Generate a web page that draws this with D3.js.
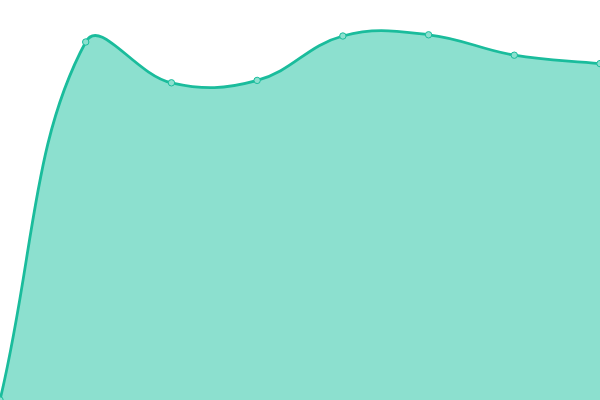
<!DOCTYPE html>
<html>
<head>
<meta charset="utf-8">
<script src="https://cdn.jsdelivr.net/npm/d3@7"></script>
<style>
html,body{margin:0;padding:0;background:#fff;overflow:hidden;}
svg{display:block;}
</style>
</head>
<body>
<svg id="chart" width="600" height="400"></svg>
<script>
const categories = ["January","February","March","April","May","June","July","August"];
const values = [0, 89.5, 79.3, 79.9, 91.0, 91.3, 86.2, 84.1];
const yDomain = [0, 100];

const W = 600, H = 400;
const svg = d3.select("#chart");

const x = d3.scalePoint().domain(categories).range([0, W]);
const y = d3.scaleLinear().domain(yDomain).range([H, 0]);

// Chart.js-style spline (distance-weighted tangents, tension 0.4)
function SplineCurve(context, tension){ this._context = context; this._t = tension; }
SplineCurve.prototype = {
  areaStart(){ this._line = 0; },
  areaEnd(){ this._line = NaN; },
  lineStart(){ this._pts = []; },
  point(px, py){ this._pts.push([+px, +py]); },
  lineEnd(){
    const p = this._pts, n = p.length, ctx = this._context, t = this._t;
    if (n) {
      if (this._line) ctx.lineTo(p[0][0], p[0][1]); else ctx.moveTo(p[0][0], p[0][1]);
      const cps = p.map((cur, i) => {
        const prev = p[i-1] || cur, next = p[i+1] || cur;
        const d01 = Math.hypot(cur[0]-prev[0], cur[1]-prev[1]);
        const d12 = Math.hypot(next[0]-cur[0], next[1]-cur[1]);
        let s01 = d01/(d01+d12), s12 = d12/(d01+d12);
        if (!isFinite(s01)) s01 = 0;
        if (!isFinite(s12)) s12 = 0;
        const fa = t*s01, fb = t*s12;
        return {
          prev: [cur[0] - fa*(next[0]-prev[0]), Math.max(0, Math.min(H, cur[1] - fa*(next[1]-prev[1])))],
          next: [cur[0] + fb*(next[0]-prev[0]), Math.max(0, Math.min(H, cur[1] + fb*(next[1]-prev[1])))]
        };
      });
      for (let i = 1; i < n; i++) {
        ctx.bezierCurveTo(cps[i-1].next[0], cps[i-1].next[1], cps[i].prev[0], cps[i].prev[1], p[i][0], p[i][1]);
      }
    }
    if (this._line || (this._line !== 0 && n === 1)) ctx.closePath();
    this._line = 1 - this._line;
  }
};
const curve = ctx => new SplineCurve(ctx, 0.4);

const data = categories.map((c, i) => ({c, v: values[i]}));

const area = d3.area().x(d => x(d.c)).y0(y(0)).y1(d => y(d.v)).curve(curve);
const line = d3.line().x(d => x(d.c)).y(d => y(d.v)).curve(curve);

svg.append("path").datum(data).attr("d", area).attr("fill", "#8ce0cf");
svg.append("path").datum(data).attr("d", line)
  .attr("fill", "none").attr("stroke", "#1abc9c").attr("stroke-width", 2.8);

svg.selectAll("circle").data(data).join("circle")
  .attr("cx", d => x(d.c)).attr("cy", d => y(d.v)).attr("r", 3.2)
  .attr("fill", "#8ce0cf").attr("stroke", "#1abc9c").attr("stroke-width", 1);
</script>
</body>
</html>
